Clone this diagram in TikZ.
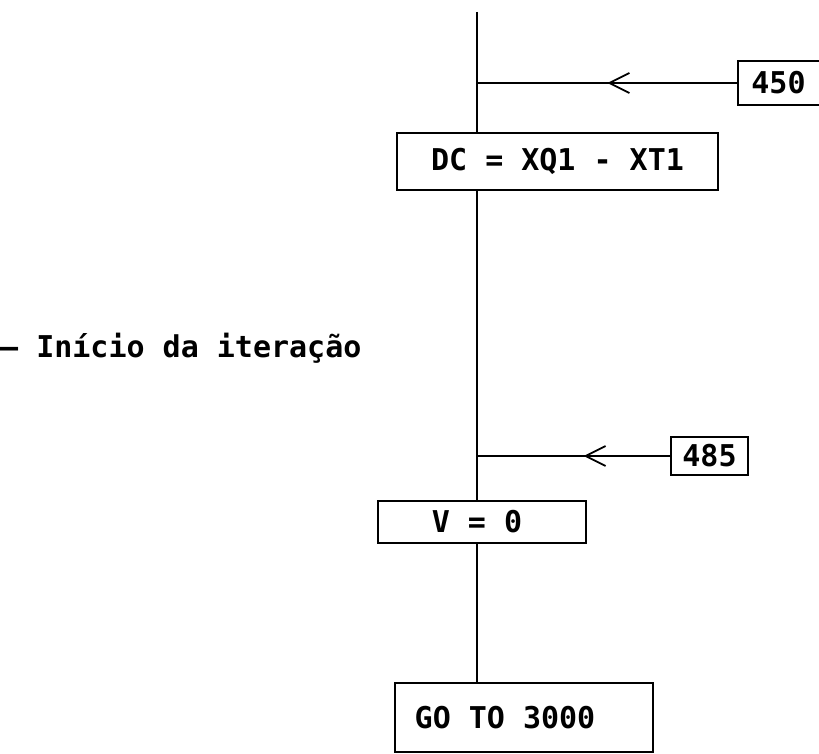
\documentclass[tikz,border=0pt]{standalone}
\usepackage{fontspec}
\newfontfamily\monof{DejaVu Sans Mono}
\usetikzlibrary{decorations.markings,arrows.meta}
\tikzset{
  flow/.style={line width=1.8pt},
  boxnode/.style={draw, line width=1.8pt, rectangle, inner sep=0pt, font=\monof\bfseries\fontsize{30}{30}\selectfont},
  openbox/.style={rectangle, inner sep=0pt, font=\monof\bfseries\fontsize{30}{30}\selectfont},
  midarrow/.style={postaction={decorate}, decoration={markings, mark=at position #1 with {\arrow{Straight Barb[length=20pt,width=20pt,line width=1.8pt]}}}}
}
\begin{document}
\begin{tikzpicture}[x=1pt,y=-1pt]
\useasboundingbox (0,0) rectangle (819,754);
\coordinate (top) at (477,12);
\node[boxnode, minimum width=321pt, minimum height=57pt] (dc) at (557.5,161.5) {DC = XQ1 - XT1};
\node[openbox, minimum width=81pt, minimum height=44pt] (b450) at (778.5,83) {450};
\node[openbox, minimum width=77pt, minimum height=38pt] (b485) at (709.5,456) {485};
\node[boxnode, minimum width=208pt, minimum height=42pt] (v0) at (482,522) {V = 0\hspace*{10pt}};
\node[boxnode, minimum width=258pt, minimum height=69pt] (go) at (524,717.5) {GO TO 3000\hspace*{38pt}};
\node[anchor=base west, inner sep=0pt, font=\monof\bfseries\fontsize{30}{30}\selectfont] (lbl) at (0,357) {— Início da iteração};
\draw[flow] (b450.north east) -- (b450.north west) -- (b450.south west) -- (b450.south east);
\draw[flow] (b485.north east) -- (b485.north west) -- (b485.south west) -- (b485.south east) -- cycle;
\draw[flow] (top) -- (top |- dc.north);
\draw[flow] (top |- dc.south) -- (top |- v0.north);
\draw[flow] (top |- v0.south) -- (top |- go.north);
\draw[flow, midarrow=0.5] (b450.west) -- (b450.west -| top);
\draw[flow, midarrow=0.45] (b485.west) -- (b485.west -| top);
\end{tikzpicture}
\end{document}
